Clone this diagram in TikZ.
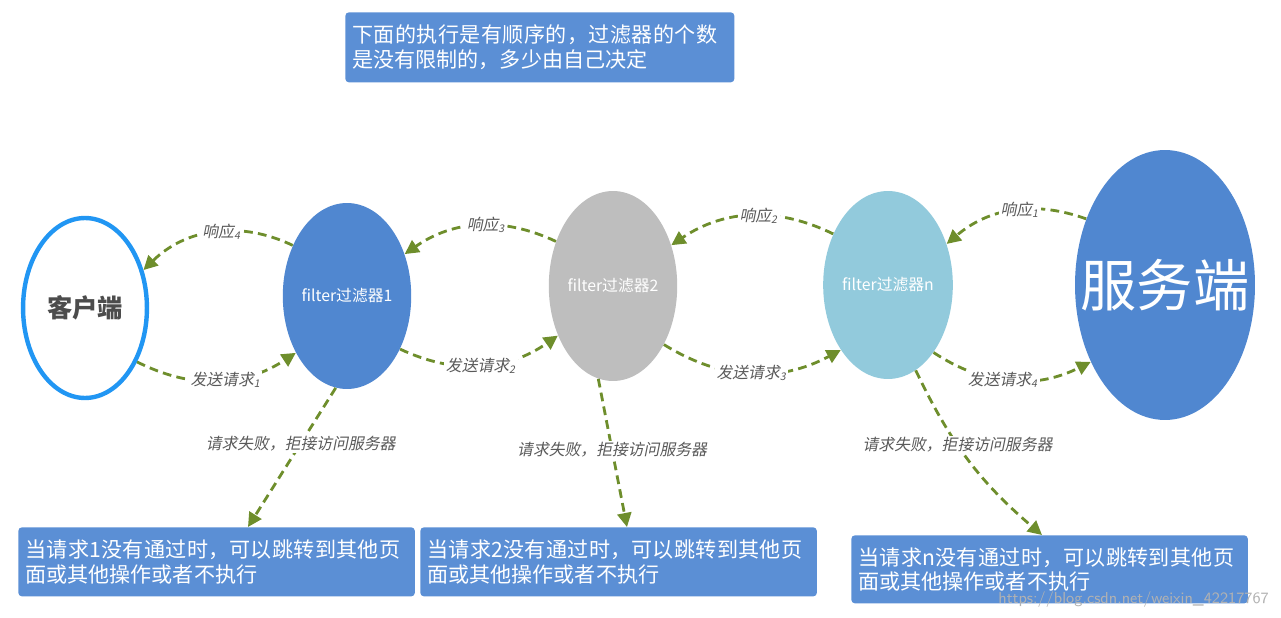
\documentclass[tikz,border=0pt]{standalone}
\usepackage{fontspec}
\usetikzlibrary{shapes.geometric,arrows.meta}
\newfontfamily\cjk{Noto Sans CJK SC}
\newfontfamily\cjkit[FakeSlant=0.2]{Noto Sans CJK SC}
\XeTeXlinebreaklocale "zh"
\XeTeXlinebreakskip=0pt plus 1pt
\definecolor{boxblue}{HTML}{5B8FD5}
\definecolor{fblue}{HTML}{5087D0}
\definecolor{fgray}{HTML}{BEBEBE}
\definecolor{flight}{HTML}{92CADC}
\definecolor{cblue}{HTML}{2196F3}
\definecolor{arrgreen}{HTML}{6E8E2C}
\tikzset{
	filt/.style={ellipse, draw=none, text=white, font=\cjk\small, inner sep=0pt},
	notebox/.style={rectangle, rounded corners=2pt, fill=boxblue, text=white, font=\cjk\large, align=left, anchor=north west, inner sep=4pt},
	flow/.style={draw=arrgreen, line width=1.6pt, dash pattern=on 5pt off 3pt, -{Triangle[length=8pt,width=8pt]}},
	lbl/.style={font=\cjkit\small, text=black!65, fill=white, inner sep=1pt}
}
\begin{document}
\begin{tikzpicture}[x=0.02cm,y=-0.02cm]
	\useasboundingbox (0,0) rectangle (1281,618);

	\node[notebox, text width=7.5cm, minimum height=1.4cm] (top) at (345,12) {下面的执行是有顺序的，过滤器的个数是没有限制的，多少由自己决定};

	\node[ellipse, draw=cblue, line width=2.5pt, fill=white, minimum width=2.4cm, minimum height=3.6cm, font=\cjk\Large, text=black!70] (client) at (85,308) {\textbf{客户端}};
	\node[filt, fill=fblue, minimum width=2.4cm, minimum height=3.72cm] (f1) at (347,296) {filter过滤器1};
	\node[filt, fill=fgray, minimum width=2.4cm, minimum height=3.8cm] (f2) at (613,286) {filter过滤器2};
	\node[filt, fill=flight, minimum width=2.28cm, minimum height=3.76cm] (fn) at (888,285) {filter过滤器n};
	\node[filt, fill=fblue, minimum width=3.6cm, minimum height=5.4cm] (server) at (1165,285) {};
	\node[text=white, font=\cjk\fontsize{32}{36}\selectfont] (serverlbl) at (server.center) {服务端};

	% responses
	\draw[flow] (f1.137) to[bend right=35] node[lbl, pos=0.45] {响应\textsubscript{4}} (client.33);
	\draw[flow] (f2.142) to[bend right=30] node[lbl, pos=0.45] {响应\textsubscript{3}} (f1.36);
	\draw[flow] (fn.137) to[bend right=30] node[lbl, pos=0.45] {响应\textsubscript{2}} (f2.35);
	\draw[flow] (server.140) to[bend right=30] node[lbl, pos=0.45] {响应\textsubscript{1}} (fn.35);

	% requests
	\draw[flow] (client.-46) to[bend right=30] node[lbl, pos=0.55] {发送请求\textsubscript{1}} (f1.-132);
	\draw[flow] (f1.-45) to[bend right=30] node[lbl, pos=0.5] {发送请求\textsubscript{2}} (f2.-138);
	\draw[flow] (f2.-49) to[bend right=30] node[lbl, pos=0.5] {发送请求\textsubscript{3}} (fn.-126);
	\draw[flow] (fn.-56) to[bend right=30] node[lbl, pos=0.45] {发送请求\textsubscript{4}} (server.-134);

	% failures
	\node[notebox, text width=7.65cm, minimum height=1.38cm] (b1) at (18,527) {当请求1没有通过时，可以跳转到其他页面或其他操作或者不执行};
	\node[notebox, text width=7.65cm, minimum height=1.38cm] (b2) at (420,527) {当请求2没有通过时，可以跳转到其他页面或其他操作或者不执行};
	\node[notebox, text width=7.65cm, minimum height=1.36cm] (bn) at (851,535) {当请求n没有通过时，可以跳转到其他页面或其他操作或者不执行};

	\coordinate (e1) at (248,527);
	\coordinate (e2) at (627,527);
	\coordinate (en) at (1042,535);
	\draw[flow] (f1.-97) -- node[lbl, pos=0.4] {请求失败，拒接访问服务器} (e1);
	\draw[flow] (f2.-99) -- node[lbl, pos=0.48] {请求失败，拒接访问服务器} (e2);
	\draw[flow] (fn.-72) to[bend right=12] node[lbl, pos=0.4] {请求失败，拒接访问服务器} (en);

	\node[font=\sffamily\small, text=black!30, anchor=east] (mark) at (1275,600) {https://blog.csdn.net/weixin\_42217767};
\end{tikzpicture}
\end{document}
